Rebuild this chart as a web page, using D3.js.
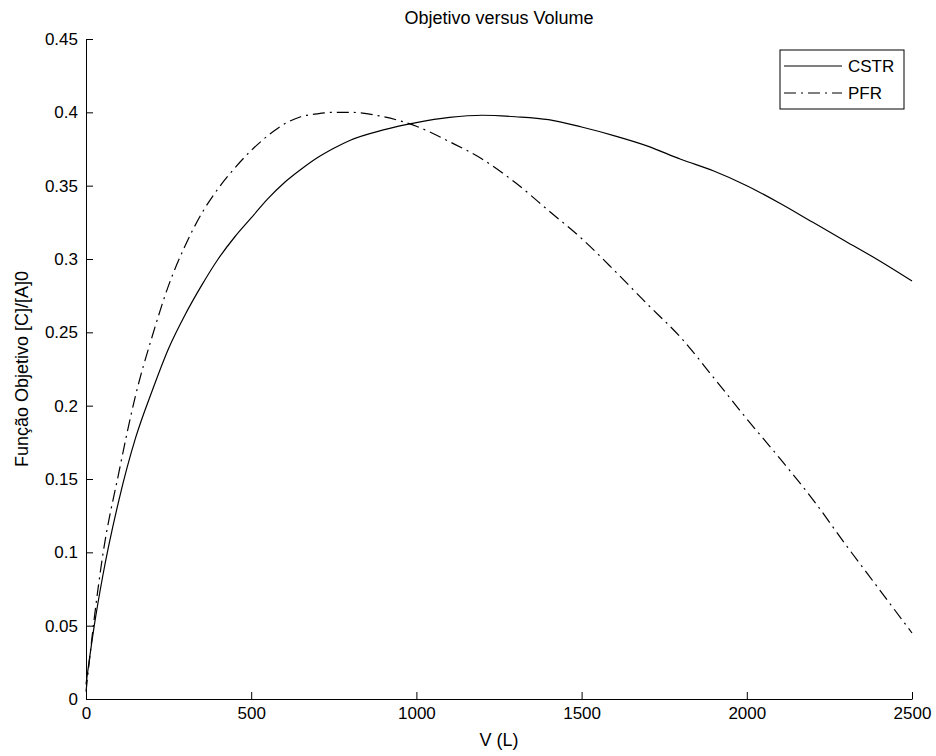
<!doctype html>
<html>
    <head>
        <script src="https://d3js.org/d3.v7.min.js"></script>
        <style>
            body { margin: 0; background: #fff; }
            text { font-family: "Liberation Sans", Arial, sans-serif; fill: #000; }
        </style>
    </head>
    <body>
        <script>
// values (V in litres, objective [C]/[A]0)
var volumes   = [0, 25, 50, 100, 150, 200, 250, 300, 350, 400, 450, 500, 550, 600, 650, 700, 750, 800, 900, 1000,
                 1100, 1200, 1300, 1400, 1500, 1600, 1700, 1800, 1900, 2000, 2100, 2200, 2300, 2400, 2500];
var cstrValues = [0.010, 0.050, 0.083, 0.136, 0.178, 0.210, 0.239, 0.262, 0.282, 0.300, 0.315, 0.328, 0.341, 0.352,
                  0.361, 0.369, 0.3755, 0.381, 0.388, 0.393, 0.3965, 0.398, 0.397, 0.395, 0.390, 0.384, 0.377,
                  0.368, 0.360, 0.350, 0.338, 0.325, 0.312, 0.299, 0.285];
var pfrValues  = [0.005, 0.055, 0.097, 0.155, 0.207, 0.247, 0.282, 0.309, 0.331, 0.348, 0.362, 0.374, 0.384, 0.392,
                  0.397, 0.399, 0.400, 0.400, 0.397, 0.3905, 0.380, 0.368, 0.352, 0.333, 0.314, 0.292, 0.269,
                  0.2465, 0.219, 0.191, 0.164, 0.136, 0.105, 0.075, 0.045];
var seriesNames = ["CSTR", "PFR"];
var xTicks = [0, 500, 1000, 1500, 2000, 2500];
var yTicks = [0, 0.05, 0.1, 0.15, 0.2, 0.25, 0.3, 0.35, 0.4, 0.45];

var width = 936, height = 756;
var margin = {top: 39, right: 24, bottom: 57, left: 86},
    chartWidth = width - margin.left - margin.right,
    chartHeight = height - margin.top - margin.bottom;

var svg = d3.select("body")
  .append("svg")
    .attr("width", width)
    .attr("height", height);

var g = svg.append("g")
    .attr("transform", "translate(" + margin.left + "," + margin.top + ")");

var xScale = d3.scaleLinear().domain([0, 2500]).range([0, chartWidth]);
var yScale = d3.scaleLinear().domain([0, 0.45]).range([chartHeight, 0]);

// MATLAB style axes: ticks pointing inward, no box
var x_axis = d3.axisBottom(xScale)
    .tickValues(xTicks)
    .tickSizeInner(-7)
    .tickSizeOuter(0)
    .tickPadding(8)
    .tickFormat(d3.format("d"));

var y_axis = d3.axisLeft(yScale)
    .tickValues(yTicks)
    .tickSizeInner(-7)
    .tickSizeOuter(0)
    .tickPadding(8)
    .tickFormat(function(d) { return String(+d.toFixed(2)); });

var gx = g.append("g")
    .attr("transform", "translate(0," + chartHeight + ")")
    .call(x_axis);
var gy = g.append("g").call(y_axis);

[gx, gy].forEach(function(a) {
  a.selectAll("text").style("font-size", "17px").attr("fill", "#000");
  a.selectAll("line, path").attr("stroke", "#000");
});

// the curves
var cstrData = volumes.map(function(v, i) { return {v: v, y: cstrValues[i]}; });
var pfrData = volumes.map(function(v, i) { return {v: v, y: pfrValues[i]}; });

var line = d3.line()
    .curve(d3.curveMonotoneX)
    .x(function(d) { return xScale(d.v); })
    .y(function(d) { return yScale(d.y); });

g.append("path")
  .datum(cstrData)
  .attr("fill", "none")
  .attr("stroke", "#000")
  .attr("stroke-width", 1.2)
  .attr("d", line);

g.append("path")
  .datum(pfrData)
  .attr("fill", "none")
  .attr("stroke", "#000")
  .attr("stroke-width", 1.2)
  .attr("stroke-dasharray", "12,5,2,5")
  .attr("d", line);

// title and labels
svg.append("text")
  .attr("x", margin.left + chartWidth / 2)
  .attr("y", 24)
  .attr("text-anchor", "middle")
  .style("font-size", "18px")
  .text("Objetivo versus Volume");

svg.append("text")
  .attr("x", margin.left + chartWidth / 2)
  .attr("y", 746)
  .attr("text-anchor", "middle")
  .style("font-size", "18px")
  .text("V (L)");

svg.append("text")
  .attr("transform", "translate(28," + (margin.top + chartHeight / 2) + ") rotate(-90)")
  .attr("text-anchor", "middle")
  .style("font-size", "18px")
  .text("Função Objetivo [C]/[A]0");

// legend
var legend = svg.append("g").attr("transform", "translate(780,50)");
legend.append("rect")
  .attr("width", 124)
  .attr("height", 59)
  .attr("fill", "#fff")
  .attr("stroke", "#000");

var dashes = [null, "12,5,2,5"];
seriesNames.forEach(function(name, i) {
  var ly = 16 + i * 27;
  legend.append("line")
    .attr("x1", 4).attr("x2", 62)
    .attr("y1", ly).attr("y2", ly)
    .attr("stroke", "#000")
    .attr("stroke-width", 1.2)
    .attr("stroke-dasharray", dashes[i]);
  legend.append("text")
    .attr("x", 68)
    .attr("y", ly + 6)
    .style("font-size", "17px")
    .text(name);
});
        </script>
    </body>
</html>
